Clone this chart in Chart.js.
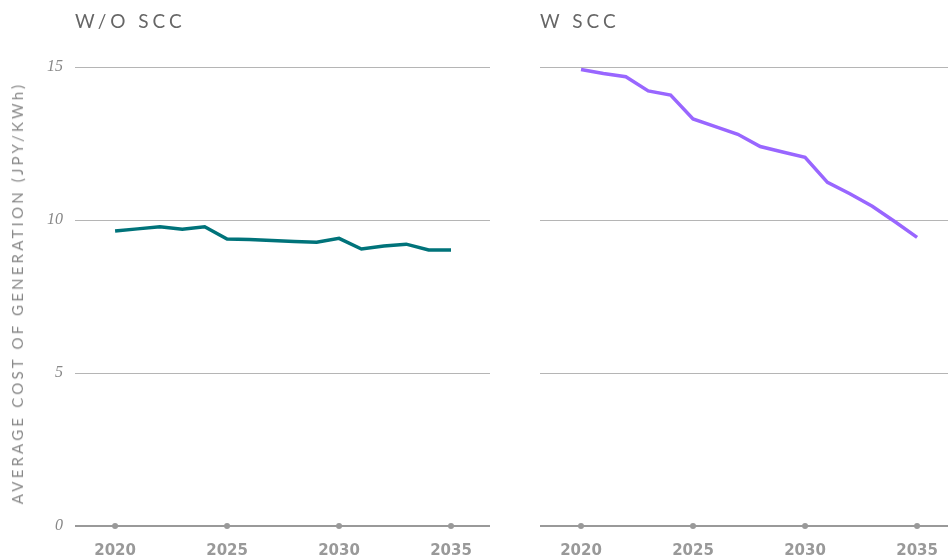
<!DOCTYPE html>
<html>
<head>
<meta charset="utf-8">
<script src="https://cdn.jsdelivr.net/npm/chart.js@4/dist/chart.umd.min.js"></script>
<style>
  html, body { margin: 0; padding: 0; background: #fff; }
  #wrap { position: relative; width: 948px; height: 558px; overflow: hidden; }
  .panel { position: absolute; top: 0; height: 558px; }
  .title { position: absolute; top: 9px; font-family: "Lato", "Noto Sans", sans-serif; font-size: 19px; color: #666; letter-spacing: 4px; font-weight: 400; }
  #ytitle { position: absolute; left: 17px; top: 293px; transform: translate(-50%, -50%) rotate(-90deg); white-space: nowrap; font-family: "Lato", "Noto Sans", sans-serif; font-size: 15px; letter-spacing: 3.2px; color: #888; }
</style>
</head>
<body>
<div id="wrap">
  <div class="panel" style="left:0;width:500px;"><canvas id="c1" width="500" height="558"></canvas></div>
  <div class="panel" style="left:500px;width:448px;"><canvas id="c2" width="448" height="558"></canvas></div>
  <div class="title" style="left:75px;">W/O SCC</div>
  <div class="title" style="left:540px;">W SCC</div>
  <div id="ytitle">AVERAGE COST OF GENERATION (JPY/KWh)</div>
</div>
<script>
const panelTitles = ["W/O SCC", "W SCC"];
const years = [2020, 2021, 2022, 2023, 2024, 2025, 2026, 2027, 2028, 2029, 2030, 2031, 2032, 2033, 2034, 2035];
const withoutScc = [9.64, 9.71, 9.78, 9.70, 9.78, 9.38, 9.36, 9.33, 9.30, 9.27, 9.40, 9.05, 9.15, 9.21, 9.02, 9.02];
const withScc = [14.92, 14.79, 14.68, 14.22, 14.08, 13.30, 13.05, 12.80, 12.40, 12.22, 12.05, 11.23, 10.86, 10.45, 9.95, 9.43];
const xTickValues = [2020, 2025, 2030, 2035];
const yTickValues = [0, 5, 10, 15];

const dotPlugin = {
  id: 'tickDots',
  afterDatasetsDraw(chart) {
    const ctx = chart.ctx, xs = chart.scales.x, y = chart.chartArea.bottom;
    ctx.save();
    ctx.fillStyle = '#999';
    xTickValues.forEach(v => {
      ctx.beginPath();
      ctx.arc(xs.getPixelForValue(v), y, 3, 0, Math.PI * 2);
      ctx.fill();
    });
    ctx.restore();
  }
};

function makeChart(id, values, color, opts) {
  return new Chart(document.getElementById(id), {
    type: 'line',
    data: {
      datasets: [{
        data: years.map((yr, i) => ({ x: yr, y: values[i] })),
        borderColor: color,
        borderWidth: 3.5,
        pointRadius: 0,
        tension: 0,
        fill: false
      }]
    },
    options: {
      responsive: false,
      animation: false,
      layout: { padding: { top: 67, right: opts.padRight, bottom: 0, left: 0 } },
      plugins: { legend: { display: false }, tooltip: { enabled: false }, title: { display: false } },
      scales: {
        x: {
          type: 'linear',
          min: opts.xmin, max: opts.xmax,
          afterBuildTicks: s => { s.ticks = xTickValues.map(v => ({ value: v })); },
          afterFit: s => { s.height = 32; s.paddingLeft = 0; s.paddingRight = 0; },
          grid: { display: false, drawTicks: false },
          border: { display: false },
          ticks: {
            padding: 16,
            color: '#999',
            font: { family: 'DejaVu Sans', size: 15, weight: 'bold' },
            callback: v => String(v),
            maxRotation: 0
          }
        },
        y: {
          min: 0, max: 15,
          afterBuildTicks: s => { s.ticks = yTickValues.map(v => ({ value: v })); },
          afterFit: s => { s.width = opts.yWidth; },
          border: { display: false },
          grid: {
            drawTicks: false,
            color: c => c.tick && c.tick.value === 0 ? '#999' : '#b5b5b5',
            lineWidth: c => c.tick && c.tick.value === 0 ? 2 : 1
          },
          ticks: {
            display: opts.showY,
            padding: 12,
            color: '#888',
            font: { family: 'Liberation Serif', size: 16, style: 'italic' },
            callback: v => String(v)
          }
        }
      }
    },
    plugins: [dotPlugin]
  });
}

makeChart('c1', withoutScc, '#00737a', { xmin: 2018.21, xmax: 2036.74, padRight: 10, yWidth: 75, showY: true });
makeChart('c2', withScc, '#9966ff', { xmin: 2018.17, xmax: 2036.38, padRight: 0, yWidth: 40, showY: false });
</script>
</body>
</html>
